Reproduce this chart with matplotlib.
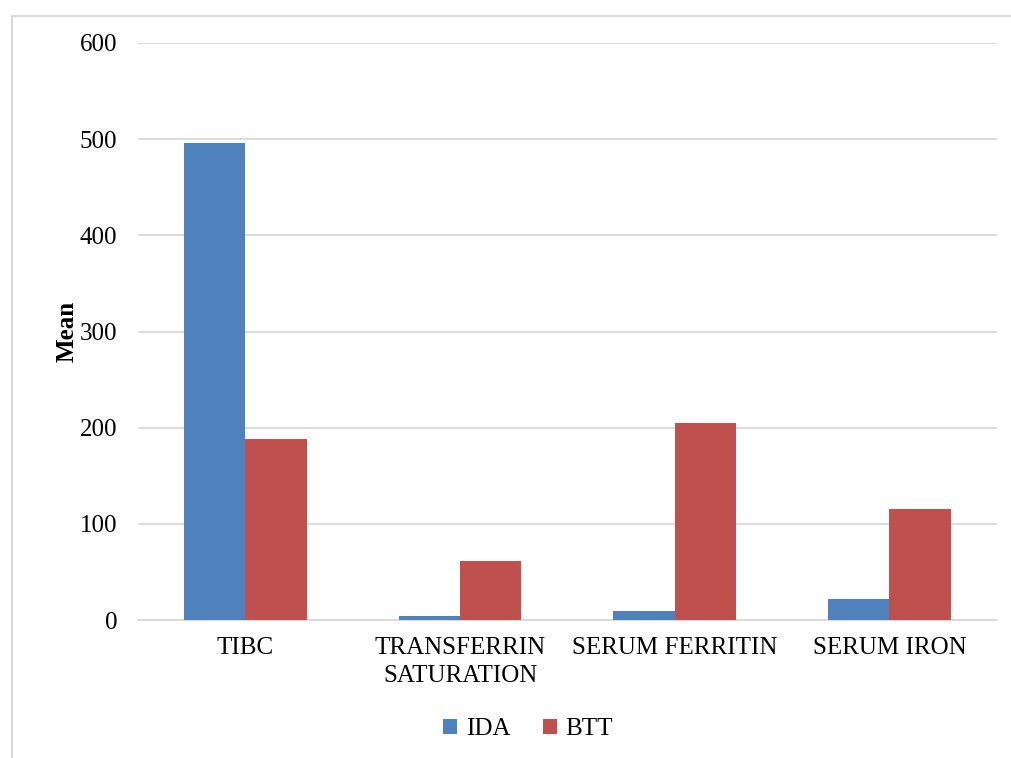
import matplotlib.pyplot as plt
from matplotlib.lines import Line2D
import numpy as np

# Data
categories = ['TIBC', 'TRANSFERRIN\nSATURATION', 'SERUM FERRITIN', 'SERUM IRON']
ida_means = [496, 4, 9, 22]
btt_means = [188, 61, 205, 115]
y_ticks = [0, 100, 200, 300, 400, 500, 600]

plt.rcParams['font.family'] = ['Liberation Serif', 'DejaVu Serif']
fs = 18

fig = plt.figure(figsize=(10.11, 7.58), dpi=100)
ax = fig.add_axes([0.1365, 0.182, 0.8495, 0.7613])

# outer frame of the chart area: only its top and left edges show
fx, fy = 11.5 / 1011, 1 - 15.5 / 758
fig.add_artist(Line2D([fx, fx, 1.0], [0.0, fy, fy], transform=fig.transFigure,
                      color='#d9d9d9', linewidth=1.5, zorder=0))

x = np.arange(len(categories))
w = 0.286
ax.bar(x - w / 2, ida_means, w, color='#4f81bd', label='IDA', zorder=3)
ax.bar(x + w / 2, btt_means, w, color='#c0504d', label='BTT', zorder=3)

ax.set_xlim(-0.5, len(categories) - 0.5)
ax.set_ylim(0, 600)
ax.set_yticks(y_ticks)
ax.set_xticks(x)
ax.set_xticklabels(categories, fontsize=fs, linespacing=1.35)
ax.tick_params(axis='y', labelsize=fs, length=0, pad=15)
ax.tick_params(axis='x', length=0, pad=12)
ax.grid(axis='y', color='#d9d9d9', linewidth=1.3, zorder=0)
for s in ['top', 'right', 'left']:
    ax.spines[s].set_visible(False)
ax.spines['bottom'].set_color('#d9d9d9')
ax.spines['bottom'].set_linewidth(1.3)

ax.set_ylabel('Mean', fontsize=fs, fontweight='bold', labelpad=1)

leg = fig.legend(loc='center', bbox_to_anchor=(528 / 1011, 1 - 729 / 758), ncol=2,
                 frameon=False, fontsize=fs, handlelength=0.55, handleheight=0.55,
                 handletextpad=0.35, columnspacing=1.3)

fig.savefig('out.png', dpi=100)
